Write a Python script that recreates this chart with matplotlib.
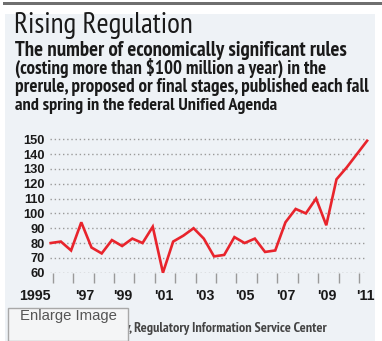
import numpy as np
import matplotlib.pyplot as plt
from matplotlib.patches import Rectangle
from matplotlib.ticker import FixedLocator, NullFormatter, FixedFormatter

# Data: economically significant rules per Unified Agenda edition
editions = ["Fall 1995"]
for yr in range(1996, 2011):
    editions += ["Spring %d" % yr, "Fall %d" % yr]
editions += ["Spring 2011"]

rules = [80, 81, 75, 94, 77, 73, 82, 78, 83, 80,
         91, 60, 81, 85, 90, 83, 71, 72, 84, 80,
         83, 74, 75, 94, 103, 100, 110, 92, 123, 131,
         140, 149]

year_labels = ["1995", "'97", "'99", "'01", "'03", "'05", "'07", "'09", "'11"]
label_pos = [1995.13, 1997.55, 1999.45, 2001.42, 2003.45, 2005.42, 2007.4, 2009.43, 2011.3]
y_ticks = [60, 70, 80, 90, 100, 110, 120, 130, 140, 150]

# spring edition plotted near mid-year, fall edition near year end
x = [int(e.split()[1]) + (0.4 if e.startswith("Spring") else 0.9) for e in editions]

W, H = 382, 341
fig = plt.figure(figsize=(W / 100, H / 100), dpi=100)
renderer = fig.canvas.get_renderer()

def fx(px):
    return px / W

def fy(py):
    return 1 - py / H

def fit(t, width_px):
    # scale the font so the text spans the width seen in the reference
    w = t.get_window_extent(renderer).width
    t.set_fontsize(t.get_fontsize() * width_px / w)

narrow = ["PT Sans Narrow", "Archivo Narrow", "Roboto Condensed", "Liberation Sans", "DejaVu Sans"]
sans = ["Liberation Sans", "DejaVu Sans"]

# background pieces
fig.add_artist(Rectangle((fx(3), fy(5.3)), 1, 3.6 / H, color="#6f6f6f", lw=0, zorder=-10))
fig.add_artist(Rectangle((fx(5), 0), fx(370), fy(14), color="#eef2f6", lw=0, zorder=-10))

# titles
t = fig.text(fx(14), fy(33), "Rising Regulation", family=narrow, fontsize=16.5,
             color="#1a1a1a", va="baseline")
fit(t, 179)
sub = ["The number of economically significant rules",
       "(costing more than $100 million a year) in the",
       "prerule, proposed or final stages, published each fall",
       "and spring in the federal Unified Agenda"]
sub_w = [332, 310, 350, 260]
for i, line in enumerate(sub):
    t = fig.text(fx(15), fy(55.5 + 18.3 * i), line, family=narrow, fontsize=11,
                 fontweight="bold", color="#1a1a1a", va="baseline")
    fit(t, sub_w[i])

# chart
ax = fig.add_axes([fx(47.6), fy(272.7), fx(371.2) - fx(47.6), fy(136.3) - fy(272.7)])
ax.set_facecolor("none")
ax.set_xlim(1995.75, 2011.6)
ax.set_ylim(60, 152)
for s in ax.spines.values():
    s.set_visible(False)

ax.set_yticks(y_ticks)
ax.set_yticklabels([str(v) for v in y_ticks], family=sans, fontsize=9.3,
                   fontweight="bold", color="#1a1a1a")
ax.tick_params(axis="y", length=0, pad=2)
for v in y_ticks:
    ax.axhline(v, xmin=0.008, xmax=0.985, color="#9a9a9a", lw=1, ls=(0, (1, 2)), zorder=1)

ax.xaxis.set_major_locator(FixedLocator(list(range(1996, 2012))))
ax.xaxis.set_major_formatter(NullFormatter())
ax.xaxis.set_minor_locator(FixedLocator(label_pos[1:]))
ax.xaxis.set_minor_formatter(FixedFormatter(year_labels[1:]))
ax.tick_params(axis="x", which="major", length=7, width=1, color="#9a9a9a", direction="out")
ax.tick_params(axis="x", which="minor", length=0, pad=12, labelsize=10.3, labelcolor="#1a1a1a")
for t in ax.xaxis.get_minorticklabels():
    t.set_fontweight("bold")
    t.set_family(sans)
# first label sits left of the plotted range
ax.annotate(year_labels[0], xy=(label_pos[0], 0), xycoords=("data", "axes fraction"),
            xytext=(0, -12), textcoords="offset points", ha="center", va="top",
            family=sans, fontsize=10.3, fontweight="bold", color="#1a1a1a",
            annotation_clip=False)

ax.plot(x, rules, color="#e8242c", lw=1.9, clip_on=False, zorder=3,
        solid_joinstyle="miter")

# source line and button
t = fig.text(fx(327), fy(332), ", Regulatory Information Service Center",
             family=narrow, fontsize=8, fontweight="bold", color="#444444", ha="right",
             va="baseline")
fit(t, 197)
fig.text(fx(130), fy(332), "Source: RegInfo.gov", family=narrow, fontsize=t.get_fontsize(),
         fontweight="bold", color="#444444", ha="right", va="baseline")
fig.add_artist(Rectangle((fx(8), 0), fx(120), fy(308), facecolor="#f4f5f6",
                         edgecolor="#a8a8a8", lw=1, zorder=5))
t = fig.text(fx(68), fy(316), "Enlarge Image", family=sans, fontsize=10,
             color="#555555", ha="center", va="center", zorder=6)
fit(t, 97)

fig.savefig("out.png", dpi=100)
